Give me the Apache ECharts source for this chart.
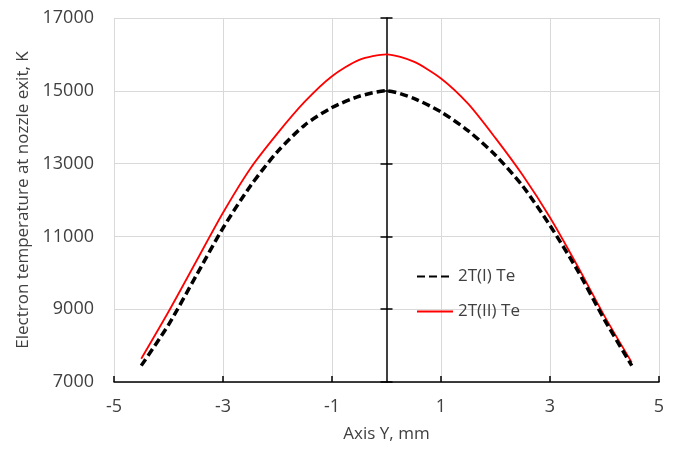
<!DOCTYPE html>
<html>
<head>
<meta charset="utf-8">
<script src="https://cdn.jsdelivr.net/npm/echarts@6/dist/echarts.min.js"></script>
<style>
  html, body { margin: 0; padding: 0; background: #fff; }
  #chart { width: 684px; height: 454px; }
</style>
</head>
<body>
<div id="chart"></div>
<script>
// axis Y positions, mm
var axisY = [-4.5, -4, -3.5, -3, -2.5, -2, -1.5, -1, -0.5, 0, 0.5, 1, 1.5, 2, 2.5, 3, 3.5, 4, 4.5];
// electron temperature, K
var te2T1 = [7450, 8570, 9900, 11230, 12380, 13330, 14060, 14540, 14850, 15000, 14790, 14420, 13900, 13230, 12380, 11300, 10080, 8710, 7450];
var te2T2 = [7640, 8930, 10290, 11650, 12860, 13830, 14700, 15400, 15850, 16000, 15800, 15340, 14640, 13700, 12680, 11520, 10200, 8810, 7540];
var seriesNames = ['2T(I) Te', '2T(II) Te'];

function pairs(xs, ys) {
  var out = [];
  for (var i = 0; i < xs.length; i++) out.push([xs[i], ys[i]]);
  return out;
}

var font = '"Open Sans", "Noto Sans", sans-serif';
var textColor = '#404040';
var gridColor = '#d9d9d9';
var halfWidth = (684 - 114 - 25) / 2; // shift for the axis drawn at x = 0

var myChart = echarts.init(document.getElementById('chart'));
var option = {
  animation: false,
  backgroundColor: '#fff',
  textStyle: { fontFamily: font },
  grid: { left: 114, right: 25, top: 18, bottom: 72, containLabel: false },
  legend: {
    orient: 'vertical',
    left: 416,
    top: 268,
    padding: 0,
    itemWidth: 36,
    itemHeight: 14,
    itemGap: 18,
    itemStyle: { opacity: 0 },
    textStyle: { fontSize: 17, color: textColor, fontFamily: font },
    data: seriesNames
  },
  xAxis: {
    type: 'value',
    min: -5,
    max: 5,
    interval: 2,
    name: 'Axis Y, mm',
    nameLocation: 'middle',
    nameGap: 44,
    nameTextStyle: { fontSize: 17, color: textColor, fontFamily: font },
    axisLine: { onZero: false, lineStyle: { color: '#000', width: 1.5 } },
    axisTick: { inside: true, length: 6, lineStyle: { color: '#000', width: 1.5 } },
    axisLabel: { fontSize: 18, color: textColor, margin: 16, fontFamily: font },
    splitLine: { show: true, lineStyle: { color: gridColor, width: 1 } }
  },
  yAxis: [{
    type: 'value',
    min: 7000,
    max: 17000,
    interval: 2000,
    position: 'left',
    name: 'Electron temperature at nozzle exit, K',
    nameLocation: 'middle',
    nameGap: 78,
    nameTextStyle: { fontSize: 17, color: textColor, fontFamily: font },
    axisLine: { show: false, onZero: false },
    axisTick: { show: false },
    axisLabel: {
      fontSize: 18, color: textColor, margin: 20, fontFamily: font,
      formatter: function (v) { return String(v); }
    },
    splitLine: { show: true, lineStyle: { color: gridColor, width: 1 } }
  }, {
    type: 'value',
    min: 7000,
    max: 17000,
    interval: 2000,
    position: 'left',
    offset: -halfWidth,
    axisLine: { show: true, onZero: false, lineStyle: { color: '#000', width: 1.5 } },
    axisTick: { show: true, inside: false, length: 6, lineStyle: { color: '#000', width: 1.5 } },
    axisLabel: { show: false },
    splitLine: { show: false }
  }, {
    type: 'value',
    min: 7000,
    max: 17000,
    interval: 2000,
    position: 'left',
    offset: -halfWidth,
    axisLine: { show: false, onZero: false },
    axisTick: { show: true, inside: true, length: 6, lineStyle: { color: '#000', width: 1.5 } },
    axisLabel: { show: false },
    splitLine: { show: false }
  }],
  series: [{
    name: seriesNames[0],
    type: 'line',
    smooth: 0.25,
    symbol: 'none',
    data: pairs(axisY, te2T1),
    lineStyle: { color: '#000', width: 3.5, type: [8, 4], cap: 'butt' },
    itemStyle: { color: '#000' },
    z: 3
  }, {
    name: seriesNames[1],
    type: 'line',
    smooth: 0.25,
    symbol: 'none',
    data: pairs(axisY, te2T2),
    lineStyle: { color: '#ff0000', width: 1.8 },
    itemStyle: { color: '#ff0000' },
    z: 2
  }]
};
myChart.setOption(option);
</script>
</body>
</html>
